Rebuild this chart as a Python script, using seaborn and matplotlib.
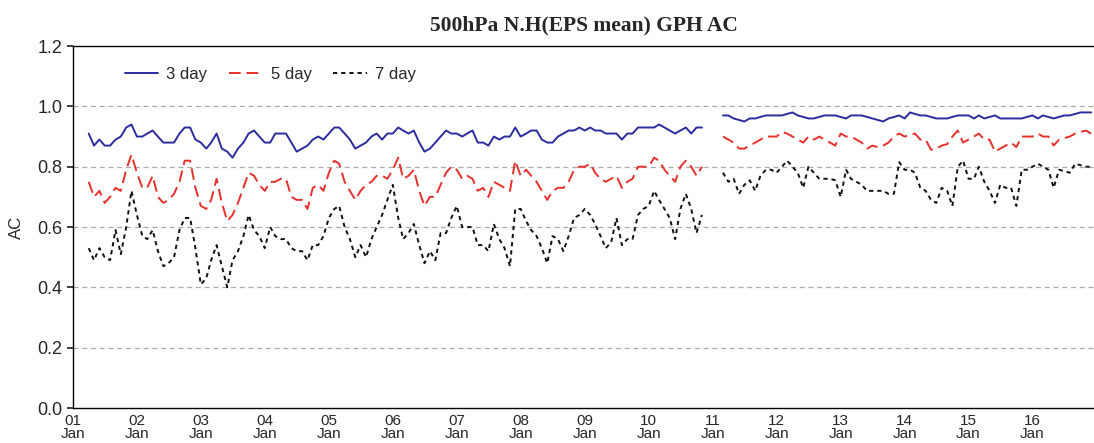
import numpy as np
import pandas as pd
import matplotlib
matplotlib.use('Agg')
import matplotlib.pyplot as plt
import matplotlib.dates as mdates
import seaborn as sns

# --- monthly AC values (one row per year) ---
# first period: Apr 2001 - Nov 2010
ac3_a = [0.91, 0.87, 0.89, 0.87, 0.87, 0.89, 0.90, 0.93, 0.94,
         0.90, 0.90, 0.91, 0.92, 0.90, 0.88, 0.88, 0.88, 0.91, 0.93, 0.93, 0.89,
         0.88, 0.86, 0.88, 0.91, 0.86, 0.85, 0.83, 0.86, 0.88, 0.91, 0.92, 0.90,
         0.88, 0.88, 0.91, 0.91, 0.91, 0.88, 0.85, 0.86, 0.87, 0.89, 0.90, 0.89,
         0.91, 0.93, 0.93, 0.91, 0.89, 0.86, 0.87, 0.88, 0.90, 0.91, 0.89, 0.91,
         0.91, 0.93, 0.92, 0.91, 0.92, 0.88, 0.85, 0.86, 0.88, 0.90, 0.92, 0.91,
         0.91, 0.90, 0.91, 0.92, 0.88, 0.88, 0.87, 0.90, 0.89, 0.90, 0.90, 0.93,
         0.90, 0.91, 0.92, 0.92, 0.89, 0.88, 0.88, 0.90, 0.91, 0.92, 0.92, 0.93,
         0.92, 0.93, 0.92, 0.92, 0.91, 0.91, 0.91, 0.89, 0.91, 0.91, 0.93, 0.93,
         0.93, 0.93, 0.94, 0.93, 0.92, 0.91, 0.92, 0.93, 0.91, 0.93, 0.93]
ac5_a = [0.75, 0.70, 0.72, 0.68, 0.70, 0.73, 0.72, 0.79, 0.84,
         0.78, 0.73, 0.73, 0.77, 0.70, 0.68, 0.69, 0.71, 0.75, 0.82, 0.82, 0.73,
         0.67, 0.66, 0.69, 0.76, 0.68, 0.62, 0.64, 0.68, 0.73, 0.78, 0.77, 0.74,
         0.72, 0.75, 0.75, 0.76, 0.76, 0.70, 0.69, 0.69, 0.66, 0.73, 0.74, 0.72,
         0.78, 0.82, 0.81, 0.75, 0.72, 0.69, 0.72, 0.74, 0.75, 0.77, 0.77, 0.76,
         0.79, 0.83, 0.76, 0.77, 0.79, 0.72, 0.67, 0.70, 0.70, 0.74, 0.78, 0.80,
         0.79, 0.76, 0.77, 0.76, 0.72, 0.73, 0.70, 0.75, 0.74, 0.73, 0.72, 0.82,
         0.77, 0.79, 0.77, 0.75, 0.72, 0.69, 0.72, 0.73, 0.73, 0.75, 0.79, 0.80,
         0.80, 0.81, 0.78, 0.76, 0.75, 0.76, 0.77, 0.73, 0.75, 0.76, 0.80, 0.80,
         0.80, 0.83, 0.82, 0.79, 0.77, 0.75, 0.80, 0.82, 0.80, 0.77, 0.80]
ac7_a = [0.53, 0.49, 0.53, 0.50, 0.49, 0.59, 0.51, 0.60, 0.72,
         0.64, 0.57, 0.56, 0.59, 0.52, 0.47, 0.48, 0.50, 0.59, 0.63, 0.63, 0.53,
         0.41, 0.43, 0.49, 0.54, 0.47, 0.40, 0.49, 0.52, 0.57, 0.64, 0.59, 0.57,
         0.53, 0.60, 0.57, 0.56, 0.56, 0.53, 0.52, 0.52, 0.49, 0.54, 0.54, 0.57,
         0.63, 0.66, 0.67, 0.60, 0.56, 0.50, 0.54, 0.50, 0.56, 0.60, 0.64, 0.69,
         0.74, 0.63, 0.56, 0.58, 0.61, 0.54, 0.48, 0.52, 0.49, 0.58, 0.58, 0.63,
         0.67, 0.60, 0.60, 0.60, 0.54, 0.54, 0.52, 0.61, 0.56, 0.53, 0.47, 0.66,
         0.66, 0.62, 0.59, 0.57, 0.53, 0.48, 0.57, 0.56, 0.52, 0.57, 0.63, 0.64,
         0.66, 0.64, 0.61, 0.57, 0.53, 0.55, 0.63, 0.54, 0.56, 0.56, 0.64, 0.66,
         0.67, 0.72, 0.69, 0.66, 0.63, 0.56, 0.66, 0.71, 0.66, 0.58, 0.64]

# second period: Mar 2011 - Dec 2016
ac3_b = [0.97, 0.97, 0.96, 0.955, 0.95, 0.96, 0.96, 0.965, 0.97, 0.97,
         0.97, 0.97, 0.975, 0.98, 0.97, 0.965, 0.96, 0.96, 0.965, 0.97, 0.97, 0.97,
         0.965, 0.96, 0.97, 0.97, 0.97, 0.965, 0.96, 0.955, 0.95, 0.96, 0.965, 0.97,
         0.96, 0.98, 0.975, 0.97, 0.97, 0.965, 0.96, 0.96, 0.96, 0.965, 0.97, 0.97,
         0.97, 0.96, 0.97, 0.96, 0.965, 0.97, 0.96, 0.96, 0.96, 0.96, 0.96, 0.965,
         0.97, 0.96, 0.97, 0.965, 0.96, 0.965, 0.97, 0.97, 0.975, 0.98, 0.98, 0.98]
ac5_b = [0.90, 0.89, 0.88, 0.86, 0.86, 0.87, 0.88, 0.89, 0.90, 0.90,
         0.90, 0.915, 0.91, 0.90, 0.89, 0.88, 0.90, 0.89, 0.90, 0.89, 0.88, 0.87,
         0.91, 0.90, 0.90, 0.89, 0.88, 0.86, 0.87, 0.865, 0.87, 0.88, 0.90, 0.91,
         0.90, 0.905, 0.91, 0.89, 0.89, 0.856, 0.86, 0.87, 0.875, 0.90, 0.92, 0.88,
         0.89, 0.90, 0.91, 0.89, 0.89, 0.85, 0.86, 0.87, 0.88, 0.865, 0.90, 0.90,
         0.90, 0.91, 0.90, 0.90, 0.87, 0.89, 0.895, 0.90, 0.91, 0.915, 0.92, 0.91]
ac7_b = [0.78, 0.75, 0.76, 0.71, 0.74, 0.755, 0.72, 0.77, 0.79, 0.79,
         0.78, 0.80, 0.82, 0.80, 0.78, 0.73, 0.80, 0.78, 0.76, 0.76, 0.76, 0.755,
         0.70, 0.79, 0.76, 0.75, 0.74, 0.72, 0.72, 0.72, 0.72, 0.71, 0.71, 0.815,
         0.79, 0.79, 0.78, 0.73, 0.72, 0.69, 0.68, 0.73, 0.72, 0.67, 0.80, 0.82,
         0.76, 0.76, 0.80, 0.75, 0.72, 0.68, 0.74, 0.73, 0.73, 0.67, 0.79, 0.79,
         0.80, 0.81, 0.80, 0.79, 0.73, 0.79, 0.785, 0.78, 0.81, 0.805, 0.80, 0.80]

leads = ['3 day', '5 day', '7 day']
dates_a = pd.date_range('2001-04-01', '2010-11-01', freq='MS')
dates_b = pd.date_range('2011-03-01', '2016-12-01', freq='MS')

frames = []
for lead, va, vb in zip(leads, [ac3_a, ac5_a, ac7_a], [ac3_b, ac5_b, ac7_b]):
    frames.append(pd.DataFrame({'date': dates_a, 'AC': va, 'lead': lead, 'seg': 1}))
    frames.append(pd.DataFrame({'date': dates_b, 'AC': vb, 'lead': lead, 'seg': 2}))
df = pd.concat(frames, ignore_index=True)

sns.set_theme(style='white')
plt.rcParams['font.family'] = ['Liberation Sans', 'DejaVu Sans']

fig = plt.figure(figsize=(10.94, 4.43), dpi=100)
ax = fig.add_axes([0.0667, 0.079, 0.935, 0.817])

colors = {'3 day': '#2b2b9e', '5 day': '#e8302a', '7 day': '#111111'}
dashes = {'3 day': '', '5 day': (6, 3), '7 day': (2.2, 2.0)}
sns.lineplot(data=df, x='date', y='AC', hue='lead', style='lead', units='seg',
             estimator=None, palette=colors, dashes=dashes, linewidth=1.4, ax=ax)

ax.set_ylim(0, 1.2)
ax.set_yticks(np.arange(0, 1.21, 0.2))
ax.set_yticklabels([f'{v:.1f}' for v in np.arange(0, 1.21, 0.2)], fontsize=13)
ax.set_xlim(pd.Timestamp('2001-01-01'), pd.Timestamp('2016-12-28'))
ax.xaxis.set_major_locator(mdates.YearLocator())
ax.xaxis.set_major_formatter(mdates.DateFormatter('%y\n%b'))
ax.tick_params(axis='x', direction='in', length=4, labelsize=11, pad=4)
ax.tick_params(axis='y', direction='out', length=4, labelsize=13, left=True)
for lab in ax.get_xticklabels():
    lab.set_linespacing(0.95)

for v in np.arange(0.2, 1.01, 0.2):
    ax.axhline(v, color='#aaaaaa', linestyle=(0, (4, 3)), linewidth=0.9, zorder=0)

for s in ['left', 'top', 'bottom']:
    ax.spines[s].set_color('black')
    ax.spines[s].set_linewidth(1.0)
ax.spines['right'].set_visible(False)

ax.set_xlabel('')
ax.set_ylabel('AC', fontsize=12, labelpad=10)

h, l = ax.get_legend_handles_labels()
ax.legend(h, l, loc='upper left', bbox_to_anchor=(0.036, 0.985), ncol=3, frameon=False,
          fontsize=12, handlelength=2.0, columnspacing=1.3, handletextpad=0.5)

ax.set_title('500hPa N.H(EPS mean) GPH AC', fontsize=15.5, fontweight='bold',
             family=['Liberation Serif', 'DejaVu Serif'], pad=11)

fig.savefig('out.png', dpi=100)
